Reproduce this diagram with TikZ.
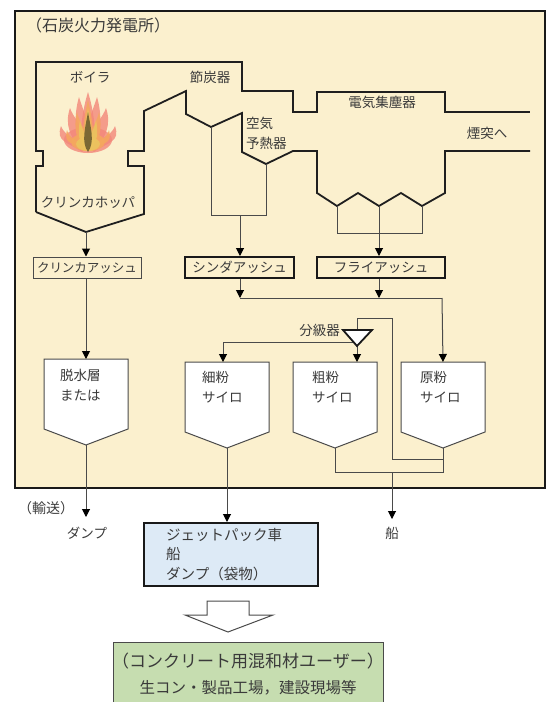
\documentclass[tikz,border=0pt]{standalone}
\usepackage{fontspec}
\setmainfont{Noto Sans CJK JP}
\usetikzlibrary{arrows.meta}

\definecolor{plant}{HTML}{FBF0CE}
\definecolor{ink}{HTML}{3A3A3A}
\definecolor{wire}{HTML}{4A4A4A}
\definecolor{carrierfill}{HTML}{DDEAF6}
\definecolor{userfill}{HTML}{C6DDB0}
\definecolor{flameA}{HTML}{F3877A}
\definecolor{flameB}{HTML}{F5A85E}
\definecolor{flameC}{HTML}{EBC45E}
\definecolor{flameD}{HTML}{6F5F30}

\tikzset{
  wall/.style={line width=1.8pt, black!88, line join=miter},
  thinline/.style={line width=1pt, wire},
  flow/.style={thinline, -{Triangle[width=8pt,length=8pt,black]}},
  lbl/.style={text=ink, font=\fontsize{13.5}{20}\selectfont, inner sep=0pt},
  ashbox/.style={draw, fill=plant, minimum height=21pt, inner sep=0pt, lbl},
  silobody/.style={draw=wire, fill=white, line width=1pt, line join=miter},
}

% silo: name, left x, top y
\newcommand\silo[3]{%
  \draw[silobody] (#2,#3) -- (#2+84,#3) -- (#2+84,#3+70) -- (#2+42,#3+86) -- (#2,#3+70) -- cycle;
  \coordinate (#1-top) at (#2+42,#3);
  \coordinate (#1-bot) at (#2+42,#3+86);
}
% flame tongue: base x, base y, tip x, tip y, half width
\newcommand\tongue[5]{%
  \fill (#1,#2) .. controls (#1-#5,#2-10) and (#3-#5*0.4,#4+16) .. (#3,#4)
        .. controls (#3+#5*0.4,#4+16) and (#1+#5,#2-10) .. (#1,#2);
}

\begin{document}
\begin{tikzpicture}[x=1pt,y=-1pt]
\useasboundingbox (0,0) rectangle (546,702);

% power station enclosure
\draw[line width=2.6pt, black!90, fill=plant] (15,11) rectangle (545,488);
\node[lbl, font=\fontsize{16}{18}\selectfont, anchor=west] (station) at (26,25) {（石炭火力発電所）};

% boiler and gas path, upper wall
\draw[wall] (36,212) -- (36,166) -- (43,166) -- (43,151) -- (36,151) -- (36,62)
  -- (242,62) -- (242,91) -- (293,91) -- (293,112) -- (317,112) -- (317,92)
  -- (445,92) -- (445,112) -- (530,112);
% lower wall with hoppers
\draw[wall] (36,212) -- (86,232) -- (144,214) -- (144,166) -- (128,166) -- (128,151)
  -- (144,151) -- (144,111) -- (186,91) -- (186,114) -- (211,127) -- (242,113)
  -- (242,152) -- (266,164) -- (293,151) -- (317,151) -- (317,193) -- (337,206)
  -- (358,193) -- (379,206) -- (401,193) -- (422,206) -- (445,193) -- (445,151) -- (530,151);
% hopper bins
\draw[thinline] (211,127) -- (211,215) -- (266,215) -- (266,164);
\draw[thinline] (337,206) -- (337,233) -- (422,233) -- (422,206);

\coordinate (hopA) at (86,232);
\coordinate (hopB) at (240,215);
\coordinate (hopC) at (379,206);

% flame
\begin{scope}[fill=flameA, fill opacity=0.8]
  \tongue{88}{150}{88}{92}{12}
  \tongue{85}{150}{79}{97}{12}
  \tongue{91}{150}{97}{97}{12}
  \tongue{84}{150}{70}{108}{14}
  \tongue{92}{150}{106}{108}{14}
  \tongue{82}{152}{61}{126}{14}
  \tongue{94}{152}{115}{126}{14}
  \fill (88,140) ellipse [x radius=24, y radius=13];
\end{scope}
\begin{scope}[fill=flameB, fill opacity=0.85]
  \tongue{88}{150}{88}{100}{9}
  \tongue{85}{150}{77}{112}{9}
  \tongue{91}{150}{99}{112}{9}
  \tongue{84}{151}{67}{130}{10}
  \tongue{92}{151}{109}{130}{10}
  \fill (88,142) ellipse [x radius=17, y radius=9];
\end{scope}
\begin{scope}[fill=flameC, fill opacity=0.9]
  \tongue{88}{150}{88}{108}{7}
  \tongue{86}{150}{80}{120}{7}
  \tongue{90}{150}{96}{120}{7}
  \fill (88,144) ellipse [x radius=12, y radius=7];
\end{scope}
\begin{scope}[fill=flameD, fill opacity=0.9]
  \tongue{88}{152}{88}{112}{7}
\end{scope}

% equipment labels
\node[lbl] (boiler) at (90,77) {ボイラ};
\node[lbl] (economizer) at (210,77) {節炭器};
\node[lbl, anchor=west, align=left] (airheater) at (246,133) {空気\\予熱器};
\node[lbl] (precip) at (382,102) {電気集塵器};
\node[lbl] (stack) at (487,133) {煙突へ};
\node[lbl] (clinkerhopper) at (88,203) {クリンカホッパ};

% ash kinds
\node[ashbox, line width=1pt, draw=wire, minimum width=108pt, font=\fontsize{12.5}{15}\selectfont] (clinker) at (87,267.5) {クリンカアッシュ};
\node[ashbox, line width=2pt, draw=black!90, minimum width=109pt] (cinder) at (239.5,267.5) {シンダアッシュ};
\node[ashbox, line width=2pt, draw=black!90, minimum width=128pt] (fly) at (381,267.5) {フライアッシュ};

\draw[flow] (hopA) -- (clinker.north -| hopA);
\draw[flow] (hopB) -- (cinder.north -| hopB);
\draw[flow] (hopC) -- (fly.north -| hopC);

% silos
\silo{dewater}{44}{359}
\silo{fine}{185}{362}
\silo{coarse}{293}{362}
\silo{raw}{401}{362}
\node[lbl, anchor=west, align=left] (dewatertext) at (60,385) {脱水層\\または};
\node[lbl, anchor=west, align=left] (finetext) at (202,387) {細粉\\サイロ};
\node[lbl, anchor=west, align=left] (coarsetext) at (312,387) {粗粉\\サイロ};
\node[lbl, anchor=west, align=left] (rawtext) at (420,387) {原粉\\サイロ};

% collection of cinder and fly ash into the raw silo
\coordinate (joinL) at (240,298);
\coordinate (joinF) at (379,298);
\coordinate (joinR) at (442,298);
\draw[flow] (cinder.south -| joinL) -- (joinL);
\draw[flow] (fly.south -| joinF) -- (joinF);
\draw[thinline] (joinL) -- (joinR);
\draw[flow] (joinR) -- (raw-top);

\draw[flow] (clinker.south -| dewater-top) -- (dewater-top);

% classifier
\coordinate (cls-top) at (357,330);
\coordinate (cls-tip) at (357,346);
\coordinate (cls-left) at (353,342);
\coordinate (feed) at (392,459);
\coordinate (outlet) at (392,472);
\draw[thinline] (raw-bot) -- (raw-bot |- outlet) -- (coarse-bot |- outlet) -- (coarse-bot);
\draw[thinline] (raw-bot |- feed) -- (feed) -- (392,318) -- (cls-top |- 0,318) -- (cls-top);
\draw[thinline] (cls-left) -- (223,342) coordinate (fineturn);
\draw[flow] (fineturn) -- (fineturn |- fine-top);
\draw[flow] (cls-tip) -- (cls-tip |- coarse-top);
\draw[line width=1.8pt, black!90, fill=white, line join=miter] (343,330) -- (372,330) -- (cls-tip) -- cycle;
\node[lbl, anchor=east] (classifier) at (340,330) {分級器};

% transport
\node[draw=black!90, line width=2pt, fill=carrierfill, minimum width=174pt, minimum height=63pt, anchor=north west, inner sep=0pt] (carrier) at (143,522) {};
\node[lbl, font=\fontsize{14.5}{19.5}\selectfont, anchor=north west, align=left] (carriertext) at (166,528) {ジェットパック車\\船\\ダンプ（袋物）};

\coordinate (dumpend) at (86,517);
\coordinate (shipend) at (392,519);
\draw[flow] (dewater-bot) -- (dumpend);
\draw[flow] (fine-bot) -- (fine-bot |- carrier.north);
\draw[flow] (outlet) -- (shipend);
\node[lbl, font=\fontsize{14}{17}\selectfont] (transport) at (46,508) {（輸送）};
\node[lbl] (dump) at (87,533) {ダンプ};
\node[lbl] (ship) at (392,533) {船};

% to users
\draw[thinline, fill=white, line join=miter] (207,601) -- (249,601) -- (249,615) -- (273,615) -- (228,632)
  -- (185,615) -- (207,615) -- cycle;
\node[draw=wire, line width=1pt, fill=userfill, minimum width=270pt, minimum height=62pt, anchor=north west, inner sep=0pt] (users) at (113,642) {};
\node[lbl, font=\fontsize{17}{20}\selectfont] (userstitle) at (248,661) {（コンクリート用混和材ユーザー）};
\node[lbl, font=\fontsize{15.5}{18}\selectfont] (usersplaces) at (248,688) {生コン・製品工場，建設現場等};
\end{tikzpicture}
\end{document}
